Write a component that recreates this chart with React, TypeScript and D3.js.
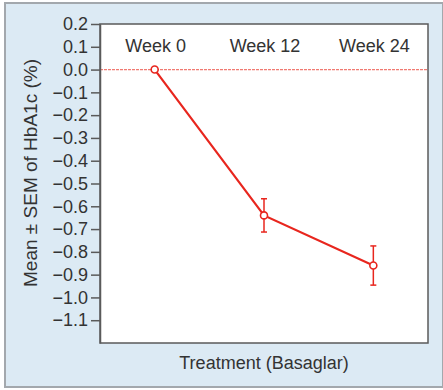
import React, { useEffect, useRef } from 'react';
import * as d3 from 'd3';

// data
const weeks = ['Week 0', 'Week 12', 'Week 24'];
const meanChange = [0, -0.64, -0.86];
const sem = [0, 0.073, 0.086];
const yTickValues = [0.2, 0.1, 0.0, -0.1, -0.2, -0.3, -0.4, -0.5, -0.6, -0.7, -0.8, -0.9, -1.0, -1.1];

const FONT = "'Liberation Sans', Arial, Helvetica, sans-serif";

const App = () => {
  const ref = useRef<SVGSVGElement | null>(null);

  useEffect(() => {
    if (ref.current) draw();
  }, []);

  const draw = () => {
    const svg = d3.select(ref.current);
    svg.selectAll('*').remove();

    const width = 443;
    const plot = { left: 100, top: 24, right: 428, bottom: 343 };

    // 外框背景
    svg.append('rect')
      .attr('x', 5).attr('y', 3)
      .attr('width', width - 5).attr('height', 384)
      .attr('fill', '#dceaf4')
      .attr('stroke', '#a3a8ad')
      .attr('stroke-width', 2);

    const x = d3.scalePoint<string>()
      .domain(weeks)
      .range([plot.left, plot.right])
      .padding(0.5);

    const y = d3.scaleLinear()
      .domain([-1.2, 0.2])
      .range([plot.bottom, plot.top]);

    // plot area
    svg.append('rect')
      .attr('x', plot.left).attr('y', plot.top)
      .attr('width', plot.right - plot.left)
      .attr('height', plot.bottom - plot.top)
      .attr('fill', '#ffffff')
      .attr('stroke', '#5a5a5a')
      .attr('stroke-width', 1.5);

    // zero reference line
    svg.append('line')
      .attr('x1', plot.left).attr('x2', plot.right)
      .attr('y1', y(0)).attr('y2', y(0))
      .attr('stroke', '#f07a72')
      .attr('stroke-width', 1.3)
      .attr('stroke-dasharray', '3,1');

    // y axis
    const yAxis = svg.append('g')
      .attr('transform', `translate(${plot.left},0)`)
      .call(
        d3.axisLeft(y)
          .tickValues(yTickValues)
          .tickSize(9)
          .tickSizeOuter(0)
          .tickPadding(3)
          .tickFormat(d => d3.format('.1f')(Math.round(+d * 10) / 10 || 0))
      );
    yAxis.select('.domain').attr('stroke', '#5a5a5a').attr('stroke-width', 1.5);
    yAxis.selectAll('.tick line').attr('stroke', '#5a5a5a').attr('stroke-width', 1.5);
    yAxis.selectAll('text')
      .attr('fill', '#333')
      .style('font-size', '18px')
      .style('font-family', FONT);

    // week labels on top
    svg.append('g')
      .selectAll('text')
      .data(weeks)
      .join('text')
      .attr('x', d => x(d)! + 1)
      .attr('y', 51.5)
      .attr('text-anchor', 'middle')
      .attr('fill', '#333')
      .style('font-size', '18px')
      .style('font-family', FONT)
      .text(d => d);

    const points = weeks.map((w, i) => ({ w, m: meanChange[i], s: sem[i] }));
    const red = '#e8261e';

    // error bars
    const eb = svg.append('g')
      .selectAll('g')
      .data(points.filter(d => d.s > 0))
      .join('g')
      .attr('stroke', red)
      .attr('stroke-width', 1.5);
    eb.append('line')
      .attr('x1', d => x(d.w)!).attr('x2', d => x(d.w)!)
      .attr('y1', d => y(d.m + d.s)).attr('y2', d => y(d.m - d.s));
    eb.append('line')
      .attr('x1', d => x(d.w)! - 3).attr('x2', d => x(d.w)! + 3)
      .attr('y1', d => y(d.m + d.s)).attr('y2', d => y(d.m + d.s));
    eb.append('line')
      .attr('x1', d => x(d.w)! - 3).attr('x2', d => x(d.w)! + 3)
      .attr('y1', d => y(d.m - d.s)).attr('y2', d => y(d.m - d.s));

    // mean line
    const line = d3.line<{ w: string; m: number }>()
      .x(d => x(d.w)!)
      .y(d => y(d.m));
    svg.append('path')
      .datum(points)
      .attr('d', line)
      .attr('fill', 'none')
      .attr('stroke', red)
      .attr('stroke-width', 2.2);

    // markers
    svg.append('g')
      .selectAll('circle')
      .data(points)
      .join('circle')
      .attr('cx', d => x(d.w)!)
      .attr('cy', d => y(d.m))
      .attr('r', 3.5)
      .attr('fill', '#fff')
      .attr('stroke', red)
      .attr('stroke-width', 1.6);

    // axis titles
    svg.append('text')
      .attr('x', (plot.left + plot.right) / 2)
      .attr('y', 369)
      .attr('text-anchor', 'middle')
      .attr('fill', '#333')
      .style('font-size', '18px')
      .style('font-family', FONT)
      .text('Treatment (Basaglar)');

    svg.append('text')
      .attr('transform', 'rotate(-90)')
      .attr('x', -173)
      .attr('y', 37)
      .attr('text-anchor', 'middle')
      .attr('fill', '#333')
      .style('font-size', '19px')
      .style('font-family', FONT)
      .text('Mean ± SEM of HbA1c (%)');
  };

  return (
    <svg
      ref={ref}
      width={443}
      height={390}
      style={{ position: 'absolute', left: 0, top: 0, background: '#fff' }}
    />
  );
};

export default App;
